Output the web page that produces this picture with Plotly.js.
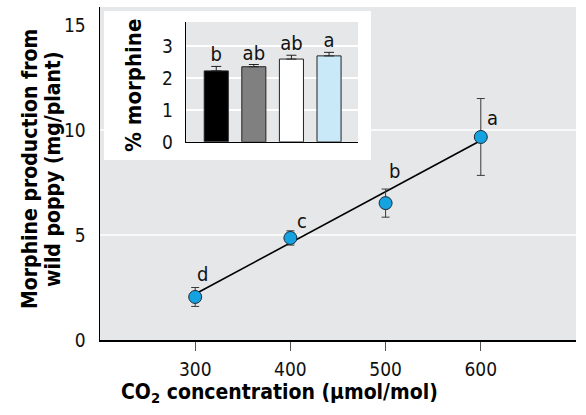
<!DOCTYPE html>
<html><head><meta charset="utf-8">
<script src="https://cdn.plot.ly/plotly-3.0.1.min.js"></script>
<style>html,body{margin:0;padding:0;background:#fff}#chart{width:586px;height:415px}</style>
</head><body><div id="chart"></div>
<script>
// Main panel data
const co2 = [300, 400, 500, 600];
const morphine = [2.05, 4.86, 6.52, 9.67];
const morphineErr = [0.45, 0.34, 0.67, 1.83];
const groupLetters = ['d', 'c', 'b', 'a'];
const fitX = [300, 600];
const fitY = [2.19, 9.5];
const mainTicks = [300, 400, 500, 600];
const mainYTicks = [0, 5, 10, 15];
const gridVals = [5, 10];
// Inset data
const insetCats = ['300', '400', '500', '600'];
const pctMorphine = [2.22, 2.35, 2.59, 2.69];
const pctErr = [0.14, 0.07, 0.12, 0.11];
const insetLetters = ['b', 'ab', 'ab', 'a'];
const insetColors = ['#000000', '#808080', '#ffffff', '#c9e9f9'];
const insetYTicks = [0, 1, 2, 3];

const FONT = '"Liberation Sans Narrow", "DejaVu Sans Condensed", "Arial Narrow", sans-serif';
const BG = '#e6e7e8';

const traces = [
  {
    x: fitX, y: fitY, type: 'scatter', mode: 'lines',
    line: {color: '#000', width: 1.6}, hoverinfo: 'skip', showlegend: false
  },
  {
    x: co2, y: morphine, type: 'scatter', mode: 'markers',
    marker: {size: 13, color: '#14a2e0', line: {color: '#1b2a3a', width: 1}},
    error_y: {type: 'data', array: morphineErr, color: '#3a3a3a', thickness: 1, width: 4},
    showlegend: false
  },
  {
    x: insetCats, y: pctMorphine, type: 'bar', xaxis: 'x2', yaxis: 'y2', width: 0.64,
    marker: {color: insetColors, line: {color: '#222', width: 1}},
    error_y: {type: 'data', symmetric: false, array: pctErr, arrayminus: pctErr.map(() => 0),
              color: '#222', thickness: 1, width: 5},
    showlegend: false
  },
  {
    x: insetCats, y: pctMorphine.map((v, i) => v + pctErr[i]), type: 'scatter', mode: 'text',
    xaxis: 'x2', yaxis: 'y2', text: insetLetters, textposition: 'top center',
    textfont: {family: FONT, size: 20, color: '#111'}, showlegend: false, hoverinfo: 'skip'
  }
];

// letter offsets (pixels) relative to each point
const letterShift = [[7, 23], [12, 17], [9, 32], [12, 19]];
const annotations = [];
co2.forEach((x, i) => {
  annotations.push({
    x: x, y: morphine[i], xref: 'x', yref: 'y', text: groupLetters[i], showarrow: false,
    xshift: letterShift[i][0], yshift: letterShift[i][1],
    font: {family: FONT, size: 20, color: '#111'}
  });
});
const titleFont = (s) => ({family: FONT, size: s, weight: 700, color: '#000'});
annotations.push(
  {xref: 'paper', yref: 'paper', x: -0.1471, y: 0.5135, textangle: -90, showarrow: false,
   xanchor: 'center', yanchor: 'middle', text: 'Morphine production from', font: titleFont(21)},
  {xref: 'paper', yref: 'paper', x: -0.0987, y: 0.5135, textangle: -90, showarrow: false,
   xanchor: 'center', yanchor: 'middle', text: 'wild poppy (mg/plant)', font: titleFont(21)},
  {xref: 'paper', yref: 'paper', x: 0.378, y: -0.159, showarrow: false,
   xanchor: 'center', yanchor: 'middle', text: 'CO<sub>2</sub> concentration (μmol/mol)', font: titleFont(21)},
  {xref: 'paper', yref: 'paper', x: 0.0714, y: 0.766, textangle: -90, showarrow: false,
   xanchor: 'center', yanchor: 'middle', text: '% morphine', font: titleFont(22)}
);

const shapes = gridVals.map(v => ({
  type: 'line', xref: 'x', yref: 'y', x0: 200, x1: 700, y0: v, y1: v,
  line: {color: '#ffffff', width: 1.5}, layer: 'below'
}));
// white inset panel
shapes.push({
  type: 'rect', xref: 'x', yref: 'y', x0: 204.2, x1: 484.7, y0: 8.57, y1: 15.67,
  fillcolor: '#ffffff', line: {width: 0}, layer: 'below'
});

const layout = {
  width: 586, height: 415,
  margin: {l: 100, r: 10, t: 7, b: 75},
  paper_bgcolor: '#ffffff', plot_bgcolor: BG,
  font: {family: FONT, size: 19, color: '#111'},
  showlegend: false,
  xaxis: {
    range: [200, 700], tickvals: mainTicks, ticks: 'outside', ticklen: 9, tickcolor: '#555',
    tickwidth: 1, showgrid: false, zeroline: false, showline: true, linecolor: '#000', linewidth: 1.5,
    ticklabelstandoff: 3,
    tickfont: {family: FONT, size: 19, color: '#111'}
  },
  yaxis: {
    range: [0, 15.86], tickvals: mainYTicks, ticks: '', showgrid: false, zeroline: false,
    showline: true, linecolor: '#000', linewidth: 1.5, ticklabelstandoff: 9,
    tickfont: {family: FONT, size: 19, color: '#111'}
  },
  xaxis2: {
    domain: [0.181, 0.542], anchor: 'y2', range: [-0.8, 3.77], type: 'category',
    showticklabels: false, ticks: '', showgrid: false, zeroline: false,
    showline: true, linecolor: '#000', linewidth: 1.5
  },
  yaxis2: {
    domain: [0.595, 0.955], anchor: 'x2', range: [0, 3.75], tickvals: insetYTicks, ticks: '',
    showgrid: true, gridcolor: '#ffffff', gridwidth: 1.5, zeroline: false,
    showline: true, linecolor: '#000', linewidth: 1.5, ticklabelstandoff: 8,
    tickfont: {family: FONT, size: 19, color: '#111'}
  },
  shapes: shapes,
  annotations: annotations
};

Plotly.newPlot('chart', traces, layout, {displayModeBar: false, staticPlot: true});
</script>
</body></html>
